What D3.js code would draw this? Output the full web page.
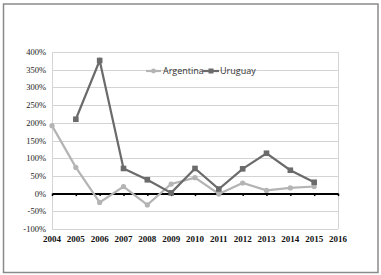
<!DOCTYPE html>
<html>
<head>
<meta charset="utf-8">
<script src="https://cdn.jsdelivr.net/npm/d3@7"></script>
<style>
  html, body { margin: 0; padding: 0; background: #fff; }
  svg { display: block; }
</style>
</head>
<body>
<div id="chart"></div>
<script>
const years = ["2004", "2005", "2006", "2007", "2008", "2009", "2010", "2011", "2012", "2013", "2014", "2015", "2016"];
const argentina = [192, 74, -25, 20, -32, 27, 45, -1, 30, 9, 16, 20, null];
const uruguay = [null, 210, 376, 71, 39, 2, 71, 13, 70, 114, 66, 32, null];
const yTicks = [-100, -50, 0, 50, 100, 150, 200, 250, 300, 350, 400];

const width = 381;
const height = 275;
const margin = { top: 52, right: 43, bottom: 46, left: 52 };

const svg = d3
  .select("#chart")
  .append("svg")
  .attr("width", width)
  .attr("height", height);

// outer frame
svg
  .append("rect")
  .attr("x", 3.5)
  .attr("y", 4)
  .attr("width", 374.5)
  .attr("height", 268.5)
  .attr("fill", "none")
  .attr("stroke", "#8a8a8a")
  .attr("stroke-width", 1.5);

const x = d3
  .scalePoint()
  .domain(years)
  .range([margin.left, width - margin.right]);

const y = d3
  .scaleLinear()
  .domain([-100, 400])
  .range([height - margin.bottom, margin.top]);

// gridlines
svg
  .append("g")
  .selectAll("line")
  .data(yTicks)
  .join("line")
  .attr("x1", margin.left)
  .attr("x2", width - margin.right)
  .attr("y1", (d) => Math.round(y(d)) + 0.5)
  .attr("y2", (d) => Math.round(y(d)) + 0.5)
  .attr("stroke", "#d4d4d4")
  .attr("stroke-width", 1);

// left and right plot borders
svg
  .append("g")
  .selectAll("line")
  .data([margin.left, width - margin.right])
  .join("line")
  .attr("x1", (d) => d + 0.5)
  .attr("x2", (d) => d + 0.5)
  .attr("y1", y(400))
  .attr("y2", y(-100))
  .attr("stroke", "#d4d4d4");

// y labels
svg
  .append("g")
  .selectAll("text")
  .data(yTicks)
  .join("text")
  .attr("x", margin.left - 6)
  .attr("y", (d) => y(d) + 3)
  .attr("text-anchor", "end")
  .attr("font-family", "Liberation Serif, serif")
  .attr("font-size", 8.5)
  .attr("fill", "#222")
  .text((d) => d + "%");

// zero axis with ticks
const zeroAxis = svg
  .append("g")
  .attr("transform", `translate(0, ${y(0)})`)
  .call(d3.axisBottom(x).tickSize(2.5).tickSizeOuter(0).tickFormat(""));
zeroAxis.select(".domain").attr("stroke", "#000").attr("stroke-width", 2);
zeroAxis.selectAll(".tick line").attr("stroke", "#000").attr("stroke-width", 1.5);

// x labels
svg
  .append("g")
  .selectAll("text")
  .data(years)
  .join("text")
  .attr("x", (d) => x(d))
  .attr("y", y(-100) + 13)
  .attr("text-anchor", "middle")
  .attr("font-family", "Liberation Serif, serif")
  .attr("font-weight", "bold")
  .attr("font-size", 9)
  .attr("fill", "#111")
  .text((d) => d);

const line = d3
  .line()
  .defined((d) => d.v !== null)
  .x((d) => x(d.year))
  .y((d) => y(d.v));

const argRows = years.map((year, i) => ({ year, v: argentina[i] }));
const uruRows = years.map((year, i) => ({ year, v: uruguay[i] }));

const argColor = "#b4b4b4";
const uruColor = "#6b6b6b";

svg
  .append("path")
  .datum(argRows)
  .attr("d", line)
  .attr("fill", "none")
  .attr("stroke", argColor)
  .attr("stroke-width", 2.2);

svg
  .append("g")
  .selectAll("circle")
  .data(argRows.filter((d) => d.v !== null))
  .join("circle")
  .attr("cx", (d) => x(d.year))
  .attr("cy", (d) => y(d.v))
  .attr("r", 2.6)
  .attr("fill", argColor);

svg
  .append("path")
  .datum(uruRows)
  .attr("d", line)
  .attr("fill", "none")
  .attr("stroke", uruColor)
  .attr("stroke-width", 2.2);

svg
  .append("g")
  .selectAll("rect")
  .data(uruRows.filter((d) => d.v !== null))
  .join("rect")
  .attr("x", (d) => x(d.year) - 2.8)
  .attr("y", (d) => y(d.v) - 2.8)
  .attr("width", 5.6)
  .attr("height", 5.6)
  .attr("fill", uruColor);

// legend
const legend = svg.append("g").attr("transform", "translate(146, 71)");
legend.append("line").attr("x1", 0).attr("x2", 15).attr("stroke", argColor).attr("stroke-width", 2.2);
legend.append("circle").attr("cx", 7.5).attr("r", 2.4).attr("fill", argColor);
legend
  .append("text")
  .attr("x", 17)
  .attr("y", 3)
  .attr("font-family", "Open Sans, sans-serif")
  .attr("font-size", 9)
  .attr("fill", "#333")
  .text("Argentina");
legend.append("line").attr("x1", 57).attr("x2", 73).attr("stroke", uruColor).attr("stroke-width", 2.2);
legend.append("rect").attr("x", 62.5).attr("y", -2.5).attr("width", 5).attr("height", 5).attr("fill", uruColor);
legend
  .append("text")
  .attr("x", 74)
  .attr("y", 3)
  .attr("font-family", "Open Sans, sans-serif")
  .attr("font-size", 9)
  .attr("fill", "#333")
  .text("Uruguay");
</script>
</body>
</html>
